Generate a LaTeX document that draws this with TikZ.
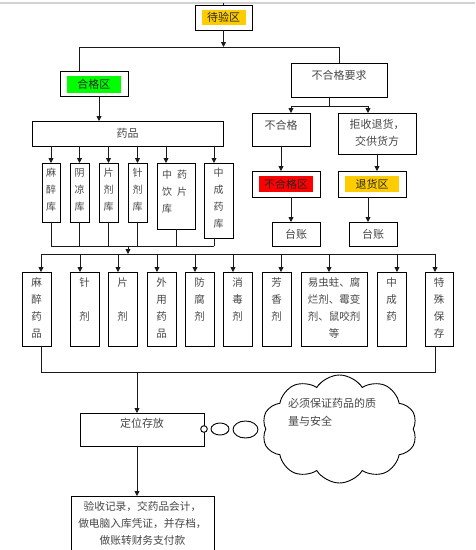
\documentclass[tikz,border=0pt]{standalone}
\usepackage{fontspec}
\newfontfamily\cjk{Noto Sans CJK SC}
\usetikzlibrary{arrows.meta,shapes.symbols,shapes.geometric}

\definecolor{tagyellow}{HTML}{FFCC00}
\definecolor{taggreen}{HTML}{00FF00}
\definecolor{tagred}{HTML}{FF0000}

% rectangle node from its corners: [style]{name}{x1}{y1}{x2}{y2}
\newcommand\rbox[6][]{%
  \node[box,#1,minimum width={(#5-#3)*1pt},minimum height={(#6-#4)*1pt}]
    (#2) at ({(#3+#5)/2},{(#4+#6)/2}) {};}
% text hanging from the top edge of a box: [style]{box}{drop}{text}
\newcommand\btext[4][txt]{%
  \node[#1,anchor=north] (#2t) at ([yshift=-#3pt]#2.north) {#4};}

\begin{document}
\begin{tikzpicture}[x=1pt,y=-1pt,
  box/.style={draw=black,line width=0.9pt,inner sep=0pt,outer sep=0pt,fill=white},
  txt/.style={inner sep=0pt,outer sep=0pt,text=black!72,
    font=\cjk\fontsize{11}{17}\selectfont,align=center},
  stxt/.style={txt,font=\cjk\fontsize{10}{17}\selectfont},
  mtxt/.style={txt,font=\cjk\fontsize{10.5}{17}\selectfont},
  tag/.style={inner sep=0pt,outer sep=0pt,text=black!85,
    font=\cjk\fontsize{11}{13}\selectfont},
  link/.style={draw=black!90,line width=0.8pt},
  arr/.style={link,-{Triangle[width=5pt,length=5pt]}},
  bubble/.style={draw=black,line width=0.9pt,fill=white,inner sep=0pt}
]
\clip (0,0) rectangle (475,550);
\fill[white] (0,0) rectangle (475,550);

% page edge
\coordinate (edge) at (0,3);
\draw[black!18,line width=1.2pt] (edge) -- ++(475,0);

% ---------- top: inspection area ----------
\rbox{dyq}{195}{5}{252}{30}
\node[tag,fill=tagyellow,minimum width=44pt,minimum height=15pt] (dyqt) at (dyq.center) {待验区};
\draw[link] (dyq.north) -- (dyq.north |- edge);

\rbox{hgq}{60}{71}{128}{96}
\node[tag,fill=taggreen,minimum width=54pt,minimum height=17pt] (hgqt) at ([yshift=-1pt]hgq.center) {合格区};

\rbox{bhgyq}{291}{63}{387}{97}
\btext{bhgyq}{7}{不合格要求}

\coordinate (busT) at (0,47);
\draw[arr] (dyq.south) -- (dyq.south |- busT);
\draw[link] ([xshift=-15pt]hgq.north |- busT) -- (bhgyq.north |- busT);
\draw[link] ([xshift=-15pt]hgq.north |- busT) -- ([xshift=-15pt]hgq.north);
\draw[link] (bhgyq.north |- busT) -- (bhgyq.north);

% ---------- qualified: storage rooms ----------
\rbox{yp}{32}{121}{223}{146}
\node[txt] (ypt) at (yp.center) {药品};
\draw[arr] ([xshift=5pt]hgq.south) -- ([xshift=5pt]hgq.south |- yp.north);

\rbox{k1}{42}{163}{60}{222}
\rbox{k2}{70}{163}{89}{222}
\rbox{k3}{99}{163}{118}{222}
\rbox{k4}{128}{163}{147}{222}
\rbox{k5}{157}{163}{195}{229}
\rbox{k6}{204}{163}{233}{238}
\btext[stxt]{k1}{5.5}{麻\\醉\\库}
\btext[stxt]{k2}{5.5}{阴\\凉\\库}
\btext[stxt]{k3}{5.5}{片\\剂\\库}
\btext[stxt]{k4}{5.5}{针\\剂\\库}
\node[stxt,align=left,anchor=north] (k5t) at ([xshift=-1.5pt,yshift=-7pt]k5.north)
  {中\hspace{5pt}药\\饮\hspace{5pt}片\\库};
\btext[stxt]{k6}{5.5}{中\\成\\药\\库}

\foreach \k in {k1,k2,k3,k4}
  \draw[arr] (\k.north |- yp.south) -- (\k.north);
\draw[arr] ([xshift=-10pt]k5.north |- yp.south) -- ([xshift=-10pt]k5.north);
\draw[arr] ([xshift=-4.5pt]k6.north |- yp.south) -- ([xshift=-4.5pt]k6.north);

\coordinate (busA) at (0,246);
\coordinate (busB) at (0,254);
\foreach \k in {k1,k2,k3,k4,k5}
  \draw[link] (\k.south) -- (\k.south |- busA);
\draw[link] ([xshift=-4.5pt]k6.south) -- ([xshift=-4.5pt]k6.south |- busA);
\draw[link] (k1.south |- busA) -- ([xshift=-4.5pt]k6.south |- busA);
\draw[arr] ([xshift=-9.5pt]k4.south |- busA) -- ([xshift=-9.5pt]k4.south |- busB);

% ---------- unqualified branch ----------
\rbox{bhg}{252}{113}{310}{146}
\btext{bhg}{7}{不合格}
\rbox{jsth}{338}{113}{416}{154}
\btext{jsth}{6}{拒收退货，\\交供货方}

\coordinate (busR) at (0,106);
\draw[link] ([xshift=-10pt]bhgyq.south) -- ([xshift=-10pt]bhgyq.south |- busR);
\draw[link] ([xshift=10pt]bhg.north |- busR) -- ([xshift=-9pt]jsth.north |- busR);
\draw[arr] ([xshift=10pt]bhg.north |- busR) -- ([xshift=10pt]bhg.north);
\draw[arr] ([xshift=-9pt]jsth.north |- busR) -- ([xshift=-9pt]jsth.north);

\rbox{bhgq}{252}{171}{320}{197}
\node[tag,fill=tagred,minimum width=54pt,minimum height=16pt] (bhgqt) at (bhgq.center) {不合格区};
\rbox{thq}{338}{171}{406}{197}
\node[tag,fill=tagyellow,minimum width=54pt,minimum height=16pt] (thqt) at (thq.center) {退货区};

\draw[arr] (bhg.south) -- (bhg.south |- bhgq.north);
\draw[arr] (jsth.south) -- (jsth.south |- thq.north);

\rbox{tz1}{272}{222}{320}{246}
\node[txt] (tz1t) at (tz1.center) {台账};
\rbox{tz2}{349}{222}{397}{246}
\node[txt] (tz2t) at (tz2.center) {台账};
\draw[arr] ([xshift=5pt]bhgq.south) -- ([xshift=5pt]bhgq.south |- tz1.north);
\draw[arr] ([xshift=-4pt]thq.south) -- ([xshift=-4pt]thq.south |- tz2.north);

% ---------- drug categories ----------
\rbox{b1}{22}{272}{51}{346}
\rbox{b2}{70}{272}{99}{346}
\rbox{b3}{108}{272}{137}{346}
\rbox{b4}{147}{272}{176}{346}
\rbox{b5}{185}{272}{214}{346}
\rbox{b6}{223}{272}{252}{346}
\rbox{b7}{262}{272}{291}{346}
\rbox{b8}{301}{272}{367}{346}
\rbox{b9}{377}{272}{406}{346}
\rbox{b10}{425}{272}{453}{346}
\btext[mtxt]{b1}{6}{麻\\醉\\药\\品}
\btext[mtxt]{b2}{6}{针\\\strut\\剂}
\btext[mtxt]{b3}{6}{片\\\strut\\剂}
\btext[mtxt]{b4}{6}{外\\用\\药\\品}
\btext[mtxt]{b5}{6}{防\\腐\\剂}
\btext[mtxt]{b6}{6}{消\\毒\\剂}
\btext[mtxt]{b7}{6}{芳\\香\\剂}
\btext[mtxt]{b8}{6}{易虫蛀、腐\\烂剂、霉变\\剂、鼠咬剂\\等}
\btext[mtxt]{b9}{6}{中\\成\\药}
\btext[mtxt]{b10}{6}{特\\殊\\保\\存}

\foreach \b/\s in {b1/4.5,b2/-4.5,b3/-4.5,b4/-4.5,b5/-4.5,b6/-4.5,b7/4.5,b8/-5,b9/5.5,b10/-4}
  \draw[arr] ([xshift=\s pt]\b.north |- busB) -- ([xshift=\s pt]\b.north);
\draw[link] ([xshift=4.5pt]b1.north |- busB) -- ([xshift=-4pt]b10.north |- busB);

\coordinate (busC) at (0,372);
\draw[link] ([xshift=4.5pt]b1.south) -- ([xshift=4.5pt]b1.south |- busC)
  -- ([xshift=-4pt]b10.south |- busC) -- ([xshift=-4pt]b10.south);

% ---------- placement and records ----------
\rbox{dwcf}{80}{413}{204}{446}
\btext{dwcf}{5}{定位存放}
\draw[arr] ([xshift=-5pt]dwcf.north |- busC) -- ([xshift=-5pt]dwcf.north);

\rbox{ys}{71}{496}{214}{570}
\node[txt,font=\cjk\fontsize{10.7}{17}\selectfont,anchor=north] (yst) at ([yshift=-5pt]ys.north)
  {验收记录，交药品会计，\\做电脑入库凭证，并存档，\\做账转财务支付款};
\draw[arr] ([xshift=-5pt]dwcf.south) -- ([xshift=-5pt]dwcf.south |- ys.north);

% thought bubble
\node[bubble,cloud,cloud puffs=10,cloud puff arc=115,aspect=1.45,
  minimum width=155pt,minimum height=108pt] (cl) at (339.5,429) {};
\node[txt,align=left,anchor=north west,font=\cjk\fontsize{11}{18.5}\selectfont]
  (clt) at ([xshift=-51.5pt,yshift=31pt]cl.center) {必须保证药品的质\\量与安全};
\node[bubble,ellipse,minimum width=25pt,minimum height=17pt] (e3) at (245.5,429.5) {};
\node[bubble,ellipse,minimum width=18pt,minimum height=12pt] (e2) at (220,429) {};
\node[bubble,circle,minimum size=6.6pt] (e1) at (dwcf.east |- e2) {};
\end{tikzpicture}
\end{document}
